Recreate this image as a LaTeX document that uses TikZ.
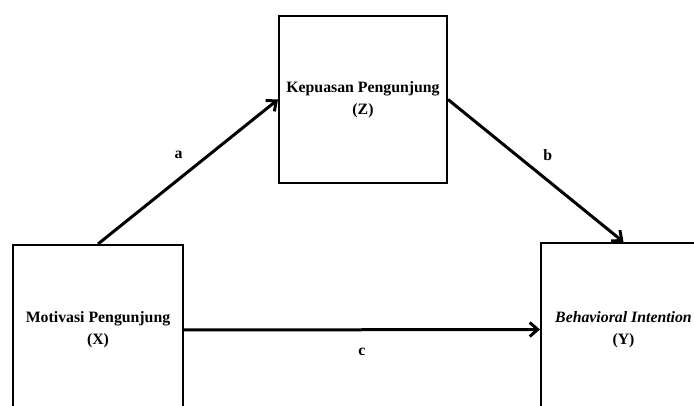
\documentclass[tikz,border=0pt]{standalone}
\usepackage{fontspec}
\setmainfont{Liberation Serif}
\usetikzlibrary{arrows.meta}
\begin{document}
\begin{tikzpicture}[x=1pt,y=-1pt]
		\tikzstyle{every node}=[font=\fontsize{15.8pt}{22pt}\selectfont\bfseries]
		\tikzstyle{varbox}=[draw, line width=2pt, align=center, inner sep=0pt]
		\tikzstyle{path}=[line width=3pt, -{Straight Barb[length=8pt,width=14pt,line width=3pt]}]
		
		\useasboundingbox (0,0) rectangle (694,406);
		
		\node[varbox, minimum width=168, minimum height=167] (z) at (363,99.5) {Kepuasan Pengunjung\\(Z)};
		\node[varbox, minimum width=170, minimum height=170] (x) at (98,330) {Motivasi Pengunjung\\(X)};
		\node[varbox, minimum width=165, minimum height=173] (y) at (623.5,329.5) {\textit{Behavioral Intention}\\(Y)};
		
		\draw[path] (x.north) -- (z.west) node[midway, xshift=-9.5, yshift=16.5] (la) {a};
		\draw[path] (z.east) -- (y.north) node[midway, xshift=12, yshift=15.5] (lb) {b};
		\draw[path] (x.east) -- (y.west) node[midway, yshift=-22] (lc) {c};
		
	\end{tikzpicture}
\end{document}
